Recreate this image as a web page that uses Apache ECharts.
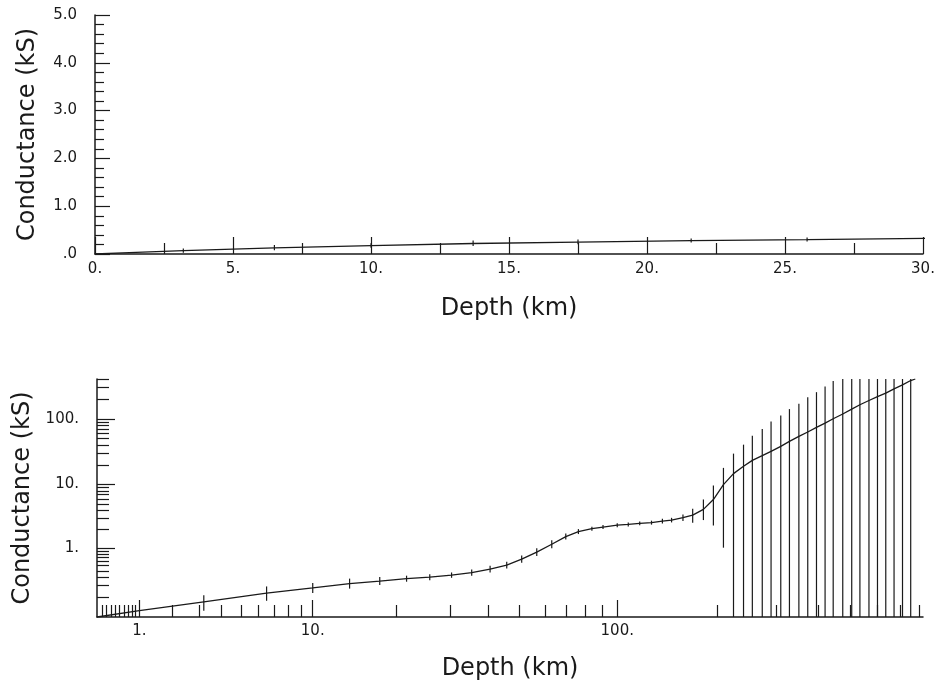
<!DOCTYPE html>
<html>
<head>
<meta charset="utf-8">
<title>Conductance vs depth</title>
<script src="https://cdn.jsdelivr.net/npm/echarts@6.0.0/dist/echarts.min.js"></script>
<style>
    html, body { margin: 0; padding: 0; background: #fff; }
    #Chart { width: 941px; height: 683px; }
</style>
</head>
<body>
<div id="Chart"></div>
<script>
//模型数据:深度(km)、累计电导(kS)、误差棒上下限
var depthKm = [0, 1, 3.2, 6.5, 10, 13.7, 17.5, 21.6, 25.8, 30.4, 35.3, 40.4, 45.6, 50.8, 56.6, 63, 69.6, 76.1, 83.7, 90.5,
    100, 108, 117, 127, 137, 146, 158, 169, 182, 195, 209, 224, 240, 255, 273, 290, 310, 329, 351, 373,
    396, 420, 444, 474, 504, 533, 567, 601, 636, 673, 713, 754, 778];
var conductance = [0, 0.025, 0.07, 0.13, 0.175, 0.22, 0.25, 0.28, 0.30, 0.33, 0.37, 0.43, 0.51, 0.65, 0.86, 1.16, 1.55, 1.86, 2.07, 2.2,
    2.35, 2.42, 2.51, 2.58, 2.73, 2.83, 3.08, 3.38, 4.15, 5.9, 10.0, 14.7, 19, 23.4, 27.6, 32, 38.2, 45.4, 54, 63,
    74, 86, 100, 118, 140, 163, 189, 217, 244, 284, 326, 379, 400];
var errLow = [0, 0.025, 0.024, 0.076, 0.131, 0.169, 0.205, 0.242, 0.260, 0.292, 0.32, 0.37, 0.444, 0.56, 0.735, 0.996, 1.39, 1.70, 1.92, 2.05,
    2.19, 2.25, 2.34, 2.40, 2.51, 2.60, 2.74, 2.58, 2.83, 2.33, 1.02, 0, 0, 0, 0, 0, 0, 0, 0, 0,
    0, 0, 0, 0, 0, 0, 0, 0, 0, 0, 0, 0, 400];
var errHigh = [0, 0.025, 0.114, 0.19, 0.227, 0.281, 0.302, 0.322, 0.344, 0.372, 0.422, 0.498, 0.584, 0.753, 1.0, 1.348, 1.73, 2.04, 2.23, 2.37,
    2.53, 2.60, 2.70, 2.77, 2.97, 3.07, 3.46, 4.25, 5.91, 9.67, 17.97, 29.6, 40.5, 55.4, 69.9, 91.1, 112.2, 140.1, 168.5, 212.6,
    252.8, 307.3, 374.5, 460, 560, 660, 780, 900, 1050, 1200, 1400, 1600, 400];

//下图坐标刻度 (轴为 log10(值+偏移))
var depthOffset = 3;
var condOffset = 0.1;
var depthMax = 820;
var condMax = 400;
var xMajorTicks = [1, 10, 100];
var xMinorTicks = [0.1, 0.2, 0.3, 0.4, 0.5, 0.6, 0.7, 0.8, 0.9, 2, 3, 4, 5, 6, 7, 8, 9,
    20, 30, 40, 50, 60, 70, 80, 90, 200, 300, 400, 500, 600, 700, 800];
var yMajorTicks = [1, 10, 100];
var yMinorTicks = [0.1, 0.2, 0.3, 0.4, 0.5, 0.6, 0.7, 0.8, 0.9, 2, 3, 4, 5, 6, 7, 8, 9,
    20, 30, 40, 50, 60, 70, 80, 90, 200, 300, 400];

var ink = '#1a1a1a';
var font = 'DejaVu Sans';

function tx(z) { return Math.log10(z + depthOffset); }
function ty(c) { return Math.log10(c + condOffset); }

//误差棒
function renderErrorBar(params, api) {
    var lo = api.value(1);
    var hi = api.value(2);
    if (lo === hi) {
        return;
    }
    var p1 = api.coord([api.value(0), lo]);
    var p2 = api.coord([api.value(0), hi]);
    return {
        type: 'line',
        shape: { x1: p1[0], y1: p1[1], x2: p2[0], y2: p2[1] },
        style: { stroke: ink, lineWidth: 1.2 }
    };
}

var linData = [], linErr = [], logData = [], logErr = [];
for (var i = 0; i < depthKm.length; i++) {
    linData.push([depthKm[i], conductance[i]]);
    linErr.push([depthKm[i], errLow[i], errHigh[i]]);
    logData.push([tx(depthKm[i]), ty(conductance[i])]);
    logErr.push([tx(depthKm[i]), ty(errLow[i]), ty(errHigh[i])]);
}

var axisLine = { onZero: false, lineStyle: { color: ink, width: 1.5 } };
var noLine = { show: false, onZero: false };
var nameStyle = { color: ink, fontFamily: font, fontSize: 24 };

var chart = echarts.init(document.getElementById('Chart'));
option = {
    animation: false,
    backgroundColor: '#fff',
    grid: [
        { left: 95, right: 18, top: 15, height: 239 },
        { left: 97, right: 18, top: 379, height: 238 }
    ],
    xAxis: [
        {
            gridIndex: 0, type: 'value', min: 0, max: 30, interval: 5,
            name: 'Depth (km)', nameLocation: 'middle', nameGap: 43, nameTextStyle: nameStyle,
            axisLine: axisLine,
            axisTick: { inside: true, length: 17, lineStyle: { color: ink, width: 1.2 } },
            minorTick: { show: true, splitNumber: 2, length: 11, lineStyle: { color: ink, width: 1.2 } },
            axisLabel: {
                color: ink, fontFamily: font, fontSize: 15, margin: 8,
                formatter: function (v) { return v + '.'; }
            },
            splitLine: { show: false }
        },
        {
            gridIndex: 1, type: 'value', position: 'bottom', min: tx(0), max: tx(depthMax),
            name: 'Depth (km)', nameLocation: 'middle', nameGap: 40, nameTextStyle: nameStyle,
            axisLine: axisLine,
            axisTick: { inside: true, length: 17, customValues: xMajorTicks.map(tx), lineStyle: { color: ink, width: 1.2 } },
            axisLabel: {
                color: ink, fontFamily: font, fontSize: 15, margin: 7,
                customValues: xMajorTicks.map(tx),
                formatter: function (v) { return Math.round(Math.pow(10, v) - depthOffset) + '.'; }
            },
            splitLine: { show: false }
        },
        {
            gridIndex: 1, type: 'value', position: 'bottom', min: tx(0), max: tx(depthMax),
            axisLine: noLine,
            axisTick: { inside: true, length: 12, customValues: xMinorTicks.map(tx), lineStyle: { color: ink, width: 1.2 } },
            axisLabel: { show: false },
            splitLine: { show: false }
        }
    ],
    yAxis: [
        {
            gridIndex: 0, type: 'value', min: 0, max: 5, interval: 1,
            name: 'Conductance (kS)', nameLocation: 'middle', nameGap: 55, nameTextStyle: nameStyle,
            axisLine: axisLine,
            axisTick: { inside: true, length: 15, lineStyle: { color: ink, width: 1.2 } },
            minorTick: { show: true, splitNumber: 5, length: 9, lineStyle: { color: ink, width: 1.2 } },
            axisLabel: {
                color: ink, fontFamily: font, fontSize: 15, margin: 18,
                formatter: function (v) { return v === 0 ? '.0' : v.toFixed(1); }
            },
            splitLine: { show: false }
        },
        {
            gridIndex: 1, type: 'value', position: 'left', min: ty(0), max: ty(condMax),
            name: 'Conductance (kS)', nameLocation: 'middle', nameGap: 52, nameTextStyle: nameStyle,
            axisLine: axisLine,
            axisTick: { inside: true, length: 18, customValues: yMajorTicks.map(ty), lineStyle: { color: ink, width: 1.2 } },
            axisLabel: {
                color: ink, fontFamily: font, fontSize: 15, margin: 18,
                customValues: yMajorTicks.map(ty),
                formatter: function (v) { return Math.round(Math.pow(10, v) - condOffset) + '.'; }
            },
            splitLine: { show: false }
        },
        {
            gridIndex: 1, type: 'value', position: 'left', min: ty(0), max: ty(condMax),
            axisLine: noLine,
            axisTick: { inside: true, length: 12, customValues: yMinorTicks.map(ty), lineStyle: { color: ink, width: 1.2 } },
            axisLabel: { show: false },
            splitLine: { show: false }
        }
    ],
    series: [
        {
            name: 'conductance', type: 'line', xAxisIndex: 0, yAxisIndex: 0,
            data: linData, showSymbol: false, clip: true,
            lineStyle: { color: ink, width: 1.3 }
        },
        {
            name: 'error', type: 'custom', xAxisIndex: 0, yAxisIndex: 0,
            data: linErr, renderItem: renderErrorBar, clip: true
        },
        {
            name: 'conductanceLog', type: 'line', xAxisIndex: 1, yAxisIndex: 1,
            data: logData, showSymbol: false, clip: true,
            lineStyle: { color: ink, width: 1.3 }
        },
        {
            name: 'errorLog', type: 'custom', xAxisIndex: 1, yAxisIndex: 1,
            data: logErr, renderItem: renderErrorBar, clip: true
        }
    ]
};
chart.setOption(option);
</script>
</body>
</html>
